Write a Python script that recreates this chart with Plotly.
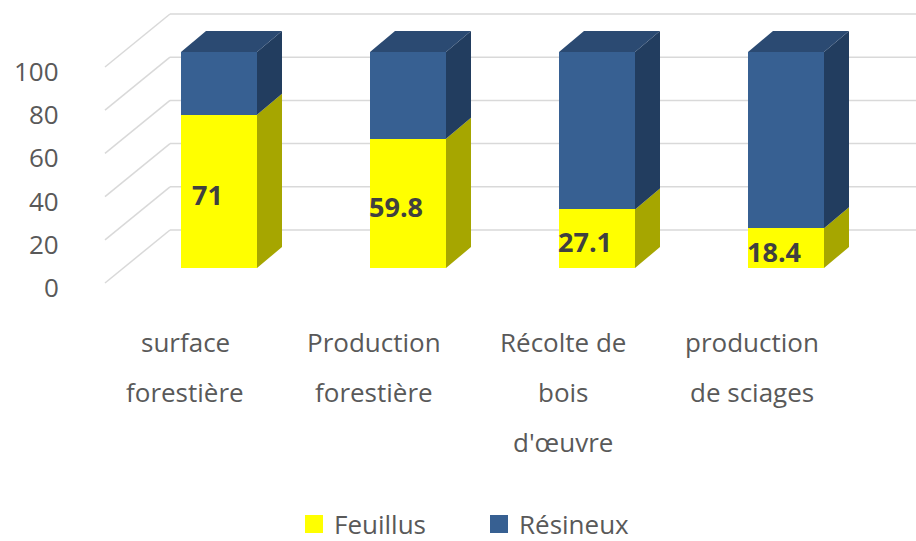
import plotly.graph_objects as go

# ---- data ----
categories = ["surface<br>forestière", "Production<br>forestière",
              "Récolte de<br>bois<br>d'œuvre", "production<br>de sciages"]
feuillus = [71, 59.8, 27.1, 18.4]
resineux = [29, 40.2, 72.9, 81.6]
series_names = ["Feuillus", "Résineux"]
y_ticks = [0, 20, 40, 60, 80, 100]

# ---- geometry / style (pixel-derived scale) ----
W, H = 916, 541
PX_PER_CAT = 189.0     # pixels between category centres
PX_PER_VAL = 2.16      # pixels per value unit
X0_PX = 219.0          # pixel x of first category centre (bar front plane)
Y0_PX = 268.0          # pixel y of value 0 (bar front plane)
BAR_W = 76 / PX_PER_CAT
DX = 25 / PX_PER_CAT   # bar depth offset (x)
DY = 21 / PX_PER_VAL   # bar depth offset (value units)

def px_to_x(px):
    return (px - X0_PX) / PX_PER_CAT

def dpx_to_v(dpx):
    return dpx / PX_PER_VAL

x_range = [px_to_x(0), px_to_x(W)]
y_range = [(Y0_PX - H) / PX_PER_VAL, Y0_PX / PX_PER_VAL]

YEL, YEL_SIDE = "#FFFF00", "#A6A600"
BLU, BLU_SIDE, BLU_TOP = "#376092", "#223D5F", "#2B4A72"
GRID = "#D9D9D9"
TXT = "#595959"
FONT = "Open Sans, DejaVu Sans, sans-serif"
FS = 26

idx = list(range(len(categories)))
fig = go.Figure()

# front faces
fig.add_trace(go.Bar(x=idx, y=feuillus, width=BAR_W, marker=dict(color=YEL, line=dict(width=0)),
                     showlegend=False, hoverinfo="skip", name=series_names[0]))
fig.add_trace(go.Bar(x=idx, y=resineux, base=feuillus, width=BAR_W,
                     marker=dict(color=BLU, line=dict(width=0)),
                     showlegend=False, hoverinfo="skip", name=series_names[1]))

# side and top faces
def poly(xs, ys, color):
    fig.add_trace(go.Scatter(x=xs + [xs[0]], y=ys + [ys[0]], mode="lines", fill="toself",
                             fillcolor=color, line=dict(width=0, color=color),
                             hoverinfo="skip", showlegend=False))

for i, f, r in zip(idx, feuillus, resineux):
    xl, xr = i - BAR_W / 2, i + BAR_W / 2
    top = f + r
    poly([xr, xr + DX, xr + DX, xr], [0, DY, f + DY, f], YEL_SIDE)
    poly([xr, xr + DX, xr + DX, xr], [f, f + DY, top + DY, top], BLU_SIDE)
    poly([xl, xr, xr + DX, xl + DX], [top, top, top + DY, top + DY], BLU_TOP)

# legend entries
for name, col in zip(series_names, [YEL, BLU]):
    fig.add_trace(go.Scatter(x=[None], y=[None], mode="markers", name=name,
                             marker=dict(symbol="square", size=16, color=col,
                                         line=dict(color=col, width=2))))

# gridlines (walls): front-left wall corner -> back wall -> right
FRONT_X, BACK_X = px_to_x(105), px_to_x(170)
FRONT_DV, BACK_DV = dpx_to_v(268 - 283), dpx_to_v(268 - 230)
shapes = []
for v in y_ticks:
    shapes.append(dict(type="line", xref="x", yref="y", layer="below",
                       x0=FRONT_X, y0=v + FRONT_DV, x1=BACK_X, y1=v + BACK_DV,
                       line=dict(color=GRID, width=1.5)))
    shapes.append(dict(type="line", xref="x", yref="y", layer="below",
                       x0=BACK_X, y0=v + BACK_DV, x1=x_range[1], y1=v + BACK_DV,
                       line=dict(color=GRID, width=1.5)))

annotations = []
# data labels on the Feuillus segments
for i, f in zip(idx, feuillus):
    annotations.append(dict(x=i - 12 / PX_PER_CAT, y=f / 2 - dpx_to_v(3), xref="x", yref="y",
                            text=f"<b>{f:g}</b>", showarrow=False,
                            xanchor="center", yanchor="middle",
                            font=dict(family=FONT, size=27, color="#404040")))
# y tick labels
for v in y_ticks:
    annotations.append(dict(x=px_to_x(61), y=v + dpx_to_v(268 - 287), xref="x", yref="y",
                            text=str(v), showarrow=False, xanchor="right", yanchor="middle",
                            font=dict(family=FONT, size=FS, color=TXT)))
# category labels (one annotation per line, 50px line spacing)
for i, cat in zip(idx, categories):
    for k, line in enumerate(cat.split("<br>")):
        annotations.append(dict(x=i + px_to_x(X0_PX - 34), y=dpx_to_v(268 - 342 - 50 * k),
                                xref="x", yref="y", text=line, showarrow=False,
                                xanchor="center", yanchor="middle",
                                font=dict(family=FONT, size=FS, color=TXT)))

fig.update_layout(
    width=W, height=H, margin=dict(l=0, r=0, t=0, b=0, autoexpand=False),
    plot_bgcolor="white", paper_bgcolor="white",
    barmode="stack",
    xaxis=dict(range=x_range, visible=False, fixedrange=True),
    yaxis=dict(range=y_range, visible=False, fixedrange=True),
    shapes=shapes, annotations=annotations,
    legend=dict(orientation="h", traceorder="normal",
                x=294 / W, xanchor="left", y=1 - 524 / H, yanchor="middle",
                font=dict(family=FONT, size=FS, color=TXT), entrywidth=140,
                bgcolor="rgba(0,0,0,0)"),
    font=dict(family=FONT),
)

fig.write_html("out.html", config={"displayModeBar": False},
               post_script="document.body.style.margin='0';")
